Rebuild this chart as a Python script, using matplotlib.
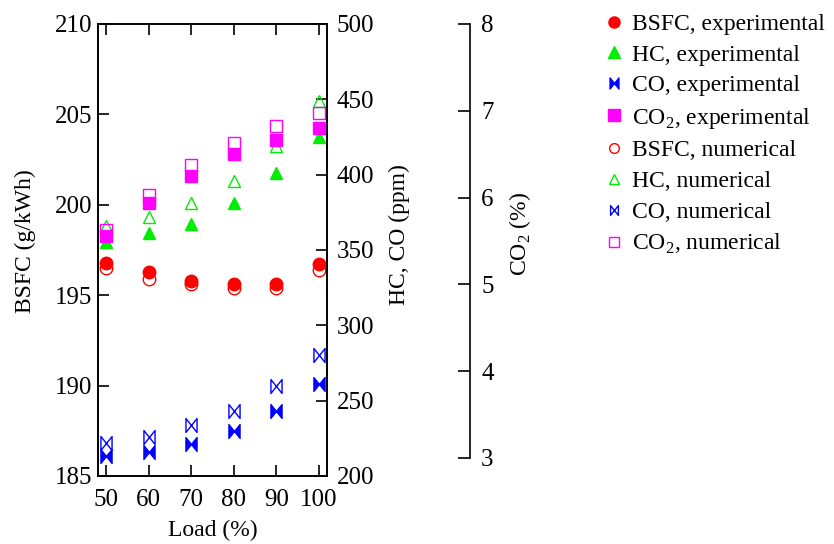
import matplotlib.pyplot as plt
import numpy as np
from matplotlib.path import Path
from matplotlib.lines import Line2D

plt.rcParams['font.family'] = ['Liberation Serif', 'DejaVu Serif']
plt.rcParams['mathtext.fontset'] = 'custom'
plt.rcParams['mathtext.rm'] = 'Liberation Serif'

load = [50, 60, 70, 80, 90, 100]

bsfc_exp = [196.8, 196.3, 195.8, 195.6, 195.6, 196.7]
bsfc_num = [196.5, 195.9, 195.6, 195.4, 195.4, 196.4]
hc_exp = [355, 361, 367, 381, 401, 425]
hc_num = [366, 372, 381, 396, 419, 449]
co_exp = [213, 216, 221, 230, 243, 261]
co_num = [222, 226, 234, 243, 260, 280]
co2_exp = [5.56, 5.94, 6.25, 6.50, 6.66, 6.80]
co2_num = [5.63, 6.03, 6.38, 6.63, 6.82, 6.97]

tfs = 18
lfs = 17
bowtie = Path([(-0.8, 1), (0, 0), (0.8, 1), (0.8, -1), (0, 0), (-0.8, -1), (-0.8, 1)],
              [Path.MOVETO, Path.LINETO, Path.LINETO, Path.LINETO, Path.LINETO, Path.LINETO, Path.CLOSEPOLY])

fig = plt.figure(figsize=(8.34, 5.44), dpi=100)
ax = fig.add_axes([98 / 834, 68 / 544, 229 / 834, 452 / 544])
ax2 = ax.twinx()
ax3 = ax.twinx()

ms = 9
ax.plot(load, bsfc_exp, 'o', color='red', ms=ms, ls='none', zorder=3)
ax.plot(load, bsfc_num, 'o', mfc='none', mec='red', ms=ms, mew=1.0, ls='none', zorder=4)
ax2.plot(load, hc_exp, '^', color='#00ee00', ms=ms, ls='none', zorder=3)
ax2.plot(load, hc_num, '^', mfc='none', mec='#00ee00', ms=ms, mew=1.0, ls='none', zorder=4)
ax2.plot(load, co_exp, marker=bowtie, color='blue', ms=ms + 1, ls='none', zorder=3)
ax2.plot(load, co_num, marker=bowtie, mfc='none', mec='blue', ms=ms + 1, mew=1.0, ls='none', zorder=4)
ax3.plot(load, co2_exp, 's', color='magenta', ms=ms, ls='none', zorder=3)
ax3.plot(load, co2_num, 's', mfc='none', mec='magenta', ms=ms, mew=1.0, ls='none', zorder=4)

ax.set_xlim(48.1, 101.9)
ax.set_ylim(185, 210)
ax2.set_ylim(200, 500)
ax3.set_ylim(2.79, 8.0)

ax.set_xticks(load)
ax.set_yticks([185, 190, 195, 200, 205, 210])
ax2.set_yticks([200, 250, 300, 350, 400, 450, 500])
ax3.set_yticks([3, 4, 5, 6, 7, 8])

for a in (ax, ax2):
    for s in a.spines.values():
        s.set_linewidth(1.2)
ax.tick_params(axis='both', which='both', direction='in', length=8, width=1.2, labelsize=tfs,
               top=True, bottom=True, left=True, right=False, pad=4)
ax.tick_params(axis='x', pad=9)
ax2.tick_params(axis='y', direction='in', length=8, width=1.2, labelsize=tfs, pad=7)

ax3.spines['right'].set_position(('axes', (470 - 98) / 229))
ax3.spines['right'].set_bounds(3, 8)
ax3.spines['right'].set_linewidth(1.2)
for k in ('left', 'top', 'bottom'):
    ax3.spines[k].set_visible(False)
ax3.tick_params(axis='y', direction='in', length=9, width=1.2, labelsize=tfs, pad=8)

ax.set_xlabel('Load (%)', fontsize=lfs)
ax.set_ylabel('BSFC (g/kWh)', fontsize=lfs)
ax2.set_ylabel('HC, CO (ppm)', fontsize=lfs)
ax3.set_ylabel('CO$_2$ (%)', fontsize=lfs)
ax.xaxis.set_label_coords(0.5, (476 - 520) / 452)
ax.yaxis.set_label_coords((36 - 98) / 229, 0.52)
ax2.yaxis.set_label_coords((389 - 98) / 229, 0.535)
ax3.yaxis.set_label_coords((507 - 98) / 229, 0.535)

handles = [
    Line2D([], [], marker='o', color='red', ls='none', ms=8),
    Line2D([], [], marker='^', color='#00ee00', ls='none', ms=8),
    Line2D([], [], marker=bowtie, color='blue', ls='none', ms=8),
    Line2D([], [], marker='s', color='magenta', ls='none', ms=8),
    Line2D([], [], marker='o', mfc='none', mec='red', ls='none', ms=7),
    Line2D([], [], marker='^', mfc='none', mec='#00ee00', ls='none', ms=7),
    Line2D([], [], marker=bowtie, mfc='none', mec='blue', ls='none', ms=7),
    Line2D([], [], marker='s', mfc='none', mec='magenta', ls='none', ms=7),
]
labels = ['BSFC, experimental', 'HC, experimental', 'CO, experimental', 'CO$_2$, experimental',
          'BSFC, numerical', 'HC, numerical', 'CO, numerical', 'CO$_2$, numerical']
fig.legend(handles, labels, loc='upper left', bbox_to_anchor=(595 / 834, 1 - 4 / 544),
           frameon=False, fontsize=lfs, handlelength=0.8, handletextpad=0.35, labelspacing=0.39,
           borderaxespad=0)

fig.savefig('out.png', dpi=100)
